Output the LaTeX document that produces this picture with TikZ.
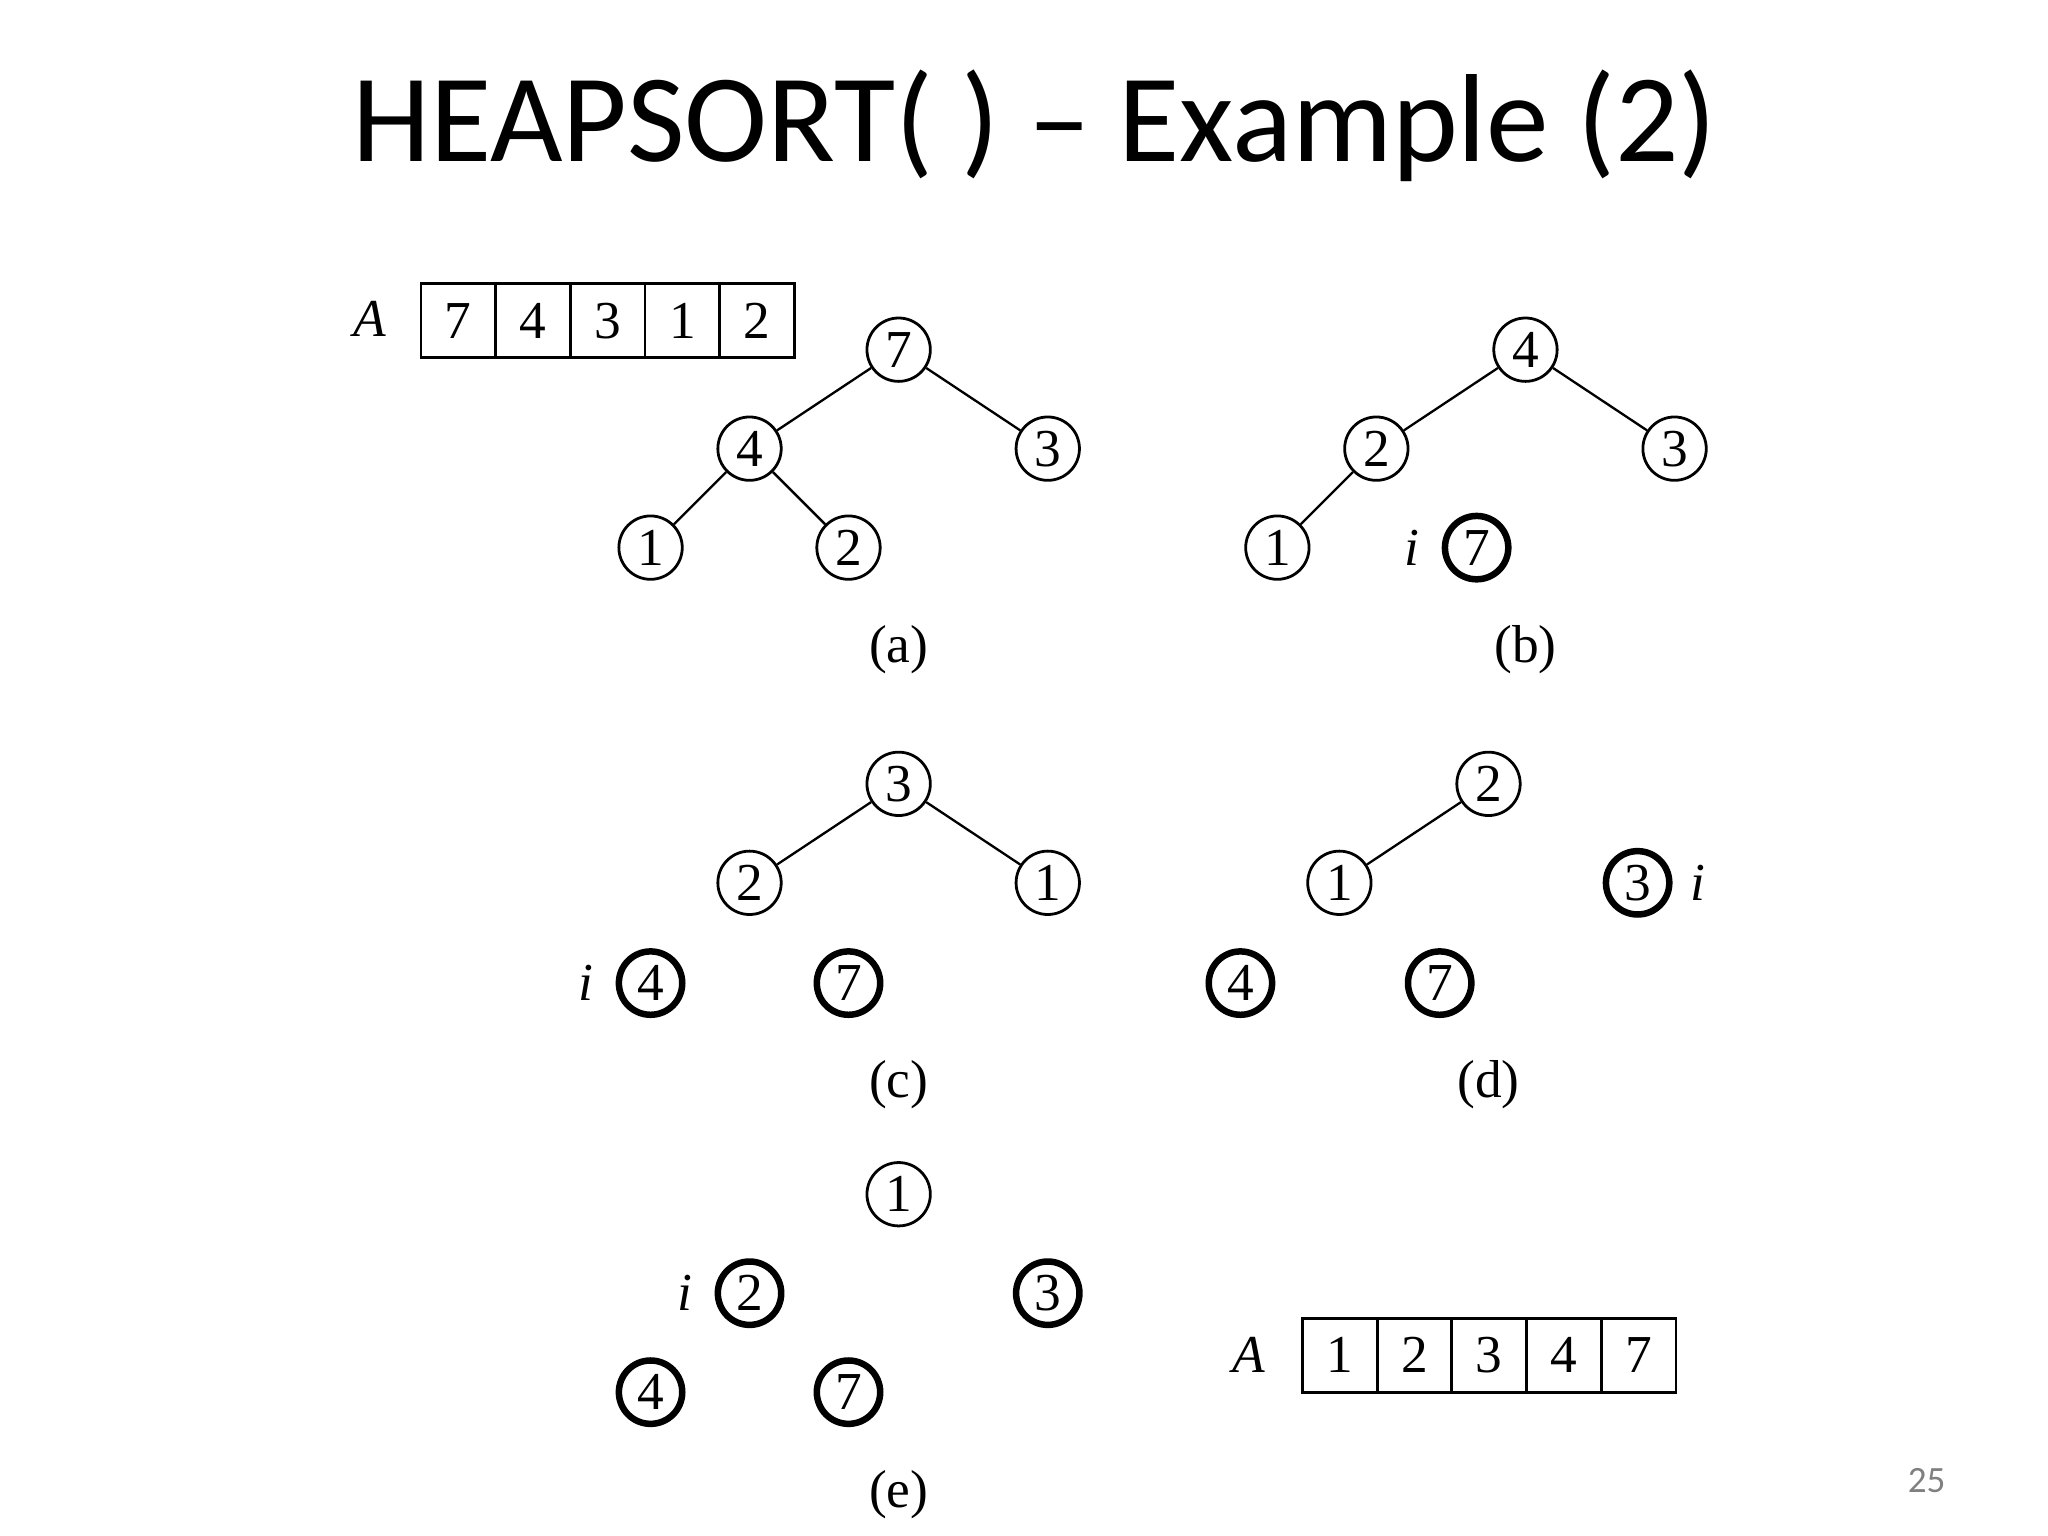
\documentclass[tikz,border=0pt]{standalone}
\usepackage{fontspec}
\setmainfont{Liberation Serif}
\newfontfamily\titlefont{Carlito}
\begin{document}
\begin{tikzpicture}[x=0.01cm,y=-0.01cm,
 nd/.style={circle,draw,line width=0.6pt,minimum size=0.48cm,inner sep=0pt,font=\fontsize{11.5}{11.5}\selectfont},
 thk/.style={nd,line width=1.4pt},
 lbl/.style={font=\fontsize{11.5}{11.5}\selectfont},
 it/.style={font=\fontsize{11.5}{11.5}\selectfont\itshape},
 cell/.style={draw,line width=0.6pt,minimum width=0.566cm,minimum height=0.56cm,inner sep=0pt,font=\fontsize{11.5}{11.5}\selectfont},
 ed/.style={line width=0.5pt}]
\useasboundingbox (0,0) rectangle (1552,1164);
\node[font=\titlefont\fontsize{27}{27}\selectfont] (title) at (784,95) {HEAPSORT( ) \textendash{} Example (2)};
% top array
\node[it] (A1) at (280,242) {A};
\foreach \v [count=\k] in {7,4,3,1,2} \node[cell] (t\k) at ({319+28.3+56.6*(\k-1)},243) {\v};
% (a)
\node[nd] (a7) at (681,265) {7};
\node[nd] (a4) at (568,340) {4};
\node[nd] (a3) at (794,340) {3};
\node[nd] (a1) at (493,415) {1};
\node[nd] (a2) at (643,415) {2};
\draw[ed] (a7)--(a4) (a7)--(a3) (a4)--(a1) (a4)--(a2);
\node[lbl] (la) at (681,492) {(a)};
% (b)
\node[nd] (b4) at (1156,265) {4};
\node[nd] (b2) at (1043,340) {2};
\node[nd] (b3) at (1269,340) {3};
\node[nd] (b1) at (968,415) {1};
\node[thk] (b7) at (1119,415) {7};
\node[it] (bi) at (1070,415) {i};
\draw[ed] (b4)--(b2) (b4)--(b3) (b2)--(b1);
\node[lbl] (lb) at (1156,492) {(b)};
% (c)
\node[nd] (c3) at (681,594) {3};
\node[nd] (c2) at (568,669) {2};
\node[nd] (c1) at (794,669) {1};
\node[thk] (c4) at (493,745) {4};
\node[thk] (c7) at (643,745) {7};
\node[it] (ci) at (444,745) {i};
\draw[ed] (c3)--(c2) (c3)--(c1);
\node[lbl] (lc) at (681,822) {(c)};
% (d)
\node[nd] (d2) at (1128,594) {2};
\node[nd] (d1) at (1015,669) {1};
\node[thk] (d3) at (1241,669) {3};
\node[it] (di) at (1287,669) {i};
\node[thk] (d4) at (940,745) {4};
\node[thk] (d7) at (1091,745) {7};
\draw[ed] (d2)--(d1);
\node[lbl] (ld) at (1128,822) {(d)};
% (e)
\node[nd] (e1) at (681,905) {1};
\node[thk] (e2) at (568,980) {2};
\node[it] (ei) at (519,980) {i};
\node[thk] (e3) at (794,980) {3};
\node[thk] (e4) at (493,1055) {4};
\node[thk] (e7) at (643,1055) {7};
\node[lbl] (le) at (681,1133) {(e)};
% bottom array
\node[it] (A2) at (946,1027) {A};
\foreach \v [count=\k] in {1,2,3,4,7} \node[cell] (s\k) at ({987+28.3+56.6*(\k-1)},1027) {\v};
\node[font=\titlefont\fontsize{8}{8}\selectfont,text=gray] (pg) at (1460,1122) {25};
\end{tikzpicture}
\end{document}
